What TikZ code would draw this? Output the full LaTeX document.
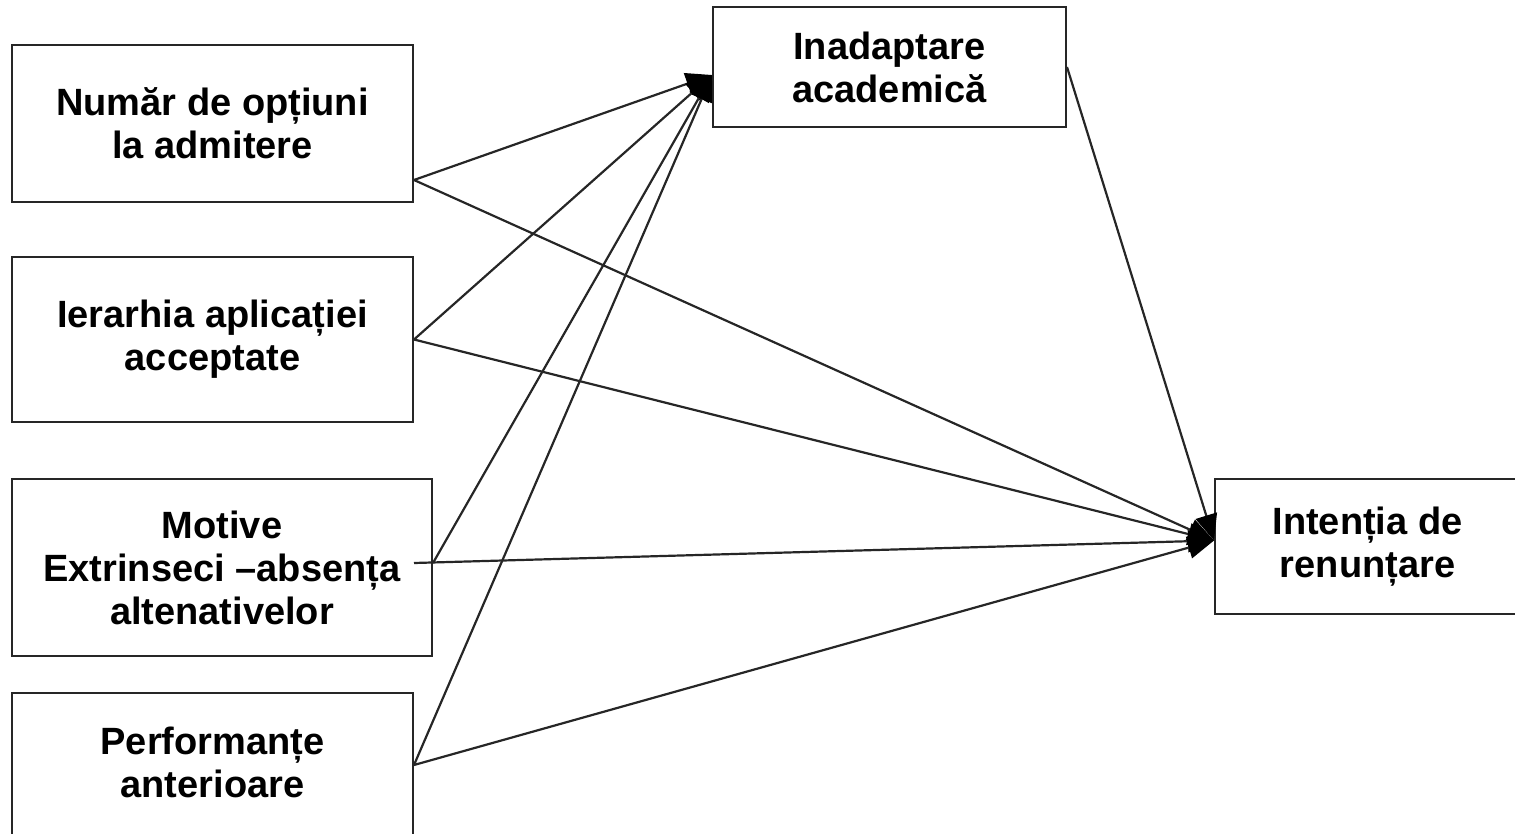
\documentclass[tikz,border=0pt]{standalone}
\usepackage{fontspec}
\setmainfont{Liberation Sans}
\usetikzlibrary{arrows.meta}
\begin{document}
\begin{tikzpicture}[x=0.5pt,y=-0.5pt,
  box/.style={draw=black!85, line width=1pt, fill=white, align=center,
    font=\fontsize{19}{21.5}\selectfont\bfseries, inner sep=0pt},
  label/.style={align=center, font=\fontsize{19}{21.5}\selectfont\bfseries, inner sep=0pt},
  link/.style={draw=black!85, line width=1.1pt},
  arr/.style={link, -{Triangle[length=13pt,width=11pt,color=black]}},
]
\useasboundingbox (0,0) rectangle (1515,834);
\clip (0,0) rectangle (1515,834);

% predictors
\node[box, minimum width=200.5pt, minimum height=78.5pt] (num) at (212.5,123.5)
  {Număr de opțiuni\\la admitere};
\node[box, minimum width=200.5pt, minimum height=82.5pt] (ier) at (212.5,339.5)
  {Ierarhia aplicației\\acceptate};
\node[box, minimum width=210pt, minimum height=88.5pt] (mot) at (222,567.5)
  {Motive\\Extrinseci –absența\\altenativelor};
\node[box, minimum width=200.5pt, minimum height=83.5pt] (perfbox) at (212.5,776.5) {};
\node[label] (perf) at (212.5,762) {Performanțe\\anterioare};

% mediator and outcome
\node[box, minimum width=176.5pt, minimum height=60pt] (inad) at (889.5,67)
  {Inadaptare\\academică};
\node[box, minimum width=152.5pt, minimum height=67.5pt] (intent) at (1367.5,546.5)
  {Intenția de\\renunțare};

% paths to the mediator
\draw[arr] ([yshift=-28.25pt]num.east) -- ([yshift=-4pt]inad.west);
\draw[arr] (ier.east) -- ([yshift=-4pt]inad.west);
\draw[arr] ([yshift=2.25pt]mot.east) -- ([yshift=-4pt]inad.west);
\draw[arr] ([yshift=5.75pt]perfbox.east) -- ([yshift=-4pt]inad.west);

% paths to the outcome
\draw[arr] ([yshift=-28.25pt]num.east) -- ([yshift=3pt]intent.west);
\draw[arr] (ier.east) -- ([yshift=3pt]intent.west);
\draw[arr] ([xshift=-9.5pt,yshift=2.25pt]mot.east) -- ([yshift=3pt]intent.west);
\draw[arr] ([yshift=5.75pt]perfbox.east) -- ([yshift=3pt]intent.west);
\draw[arr] (inad.east) -- ([yshift=3pt]intent.west);
\end{tikzpicture}
\end{document}
